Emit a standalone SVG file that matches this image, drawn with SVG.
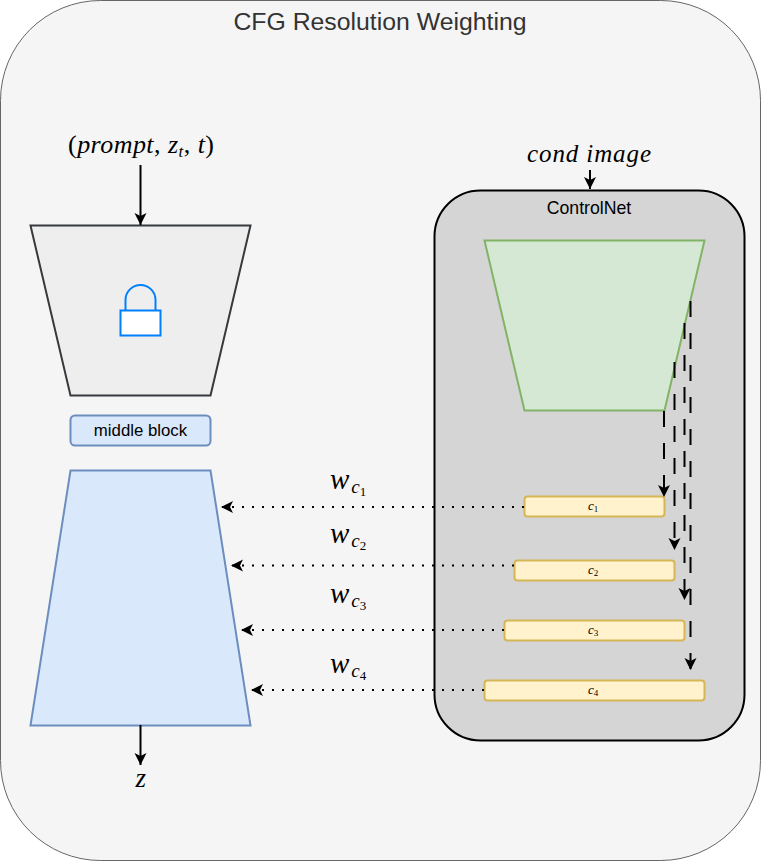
<svg xmlns="http://www.w3.org/2000/svg" width="762" height="862" viewBox="0 0 762 862">
<style>
.s{font-family:"Liberation Sans",Arial,sans-serif;text-anchor:middle;fill:#000}
.m{font-family:"Liberation Serif","Times New Roman",serif;font-style:italic;fill:#000}
.u{font-style:normal}
.solid{fill:none;stroke:#000;stroke-width:2}
.dash{fill:none;stroke:#000;stroke-width:2;stroke-dasharray:16 16}
.dot{fill:none;stroke:#000;stroke-width:2;stroke-dasharray:2 8}
.b{fill:#fff2cc;stroke:#d6b656;stroke-width:2}
</style>
<defs>
<marker id="a" markerUnits="userSpaceOnUse" markerWidth="14" markerHeight="14" refX="12" refY="6.500" orient="auto"><path d="M0 0.500L12 6.500L0 12.500L3 6.500Z" fill="#000"/></marker>
</defs>
<g id="frame"><rect x="0.500" y="0.500" width="760" height="860" rx="100" ry="100" fill="#f5f5f5" stroke="#666" stroke-width="1"/>
<text x="380" y="30" class="s" font-size="24.800" style="fill:#333">CFG Resolution Weighting</text></g>
<g id="controlnet"><rect x="434.500" y="190.500" width="310" height="550" rx="46" ry="46" fill="#d5d5d5" stroke="#000" stroke-width="2"/>
<text x="589" y="214" class="s" font-size="17.700">ControlNet</text></g>
<g id="encoder-locked"><path d="M30.500 225.500H250.500L210.500 395.500H70.500Z" fill="#eee" stroke="#36393d" stroke-width="2"/></g>
<g id="lock"><path d="M125.500 310V300A15 15 0 0 1 155.500 300V310" fill="none" stroke="#007fff" stroke-width="2"/><rect x="120.500" y="310.500" width="40" height="25" fill="#fff" stroke="#007fff" stroke-width="2"/></g>
<g id="middle-block"><rect x="70.500" y="415.500" width="140" height="30" rx="4.500" fill="#dae8fc" stroke="#6c8ebf" stroke-width="2"/>
<text x="140.500" y="436" class="s" font-size="16.800">middle block</text></g>
<g id="decoder"><path d="M70.500 470.500H210.500L250.500 725.500H30.500Z" fill="#dae8fc" stroke="#6c8ebf" stroke-width="2"/></g>
<g id="encoder-control"><path d="M484.500 240.500H704.500L664.500 410.500H524.500Z" fill="#d5e8d4" stroke="#82b366" stroke-width="2"/></g>
<g id="c1"><rect class="b" x="524.500" y="496.500" width="140" height="20" rx="3"/><text x="588" y="510" class="m" font-size="13">c<tspan class="u" font-size="9" dy="2">1</tspan></text></g>
<g id="c2"><rect class="b" x="514.500" y="560.500" width="160" height="20" rx="3"/><text x="588" y="574" class="m" font-size="13">c<tspan class="u" font-size="9" dy="2">2</tspan></text></g>
<g id="c3"><rect class="b" x="504.500" y="620.500" width="180" height="20" rx="3"/><text x="588" y="634" class="m" font-size="13">c<tspan class="u" font-size="9" dy="2">3</tspan></text></g>
<g id="c4"><rect class="b" x="484.500" y="680.500" width="220" height="20" rx="3"/><text x="588" y="694" class="m" font-size="13">c<tspan class="u" font-size="9" dy="2">4</tspan></text></g>
<g id="connectors">
<path class="solid" d="M140.500 165V225" marker-end="url(#a)"/>
<path class="solid" d="M140.500 725V765" marker-end="url(#a)"/>
<path class="solid" d="M590 170V189" marker-end="url(#a)"/>
<path class="dash" d="M664 411V497" marker-end="url(#a)"/>
<path class="dash" d="M674.500 362V550" marker-end="url(#a)"/>
<path class="dash" d="M684.500 323V600" marker-end="url(#a)"/>
<path class="dash" d="M690.500 301V670" marker-end="url(#a)"/>
<path class="dot" d="M524 507H221" marker-end="url(#a)"/>
<path class="dot" d="M514 565.500H231" marker-end="url(#a)"/>
<path class="dot" d="M504 630H241" marker-end="url(#a)"/>
<path class="dot" d="M484 690H251" marker-end="url(#a)"/>
</g>
<g id="labels">
<text x="68" y="153" class="m" font-size="26" textLength="146" lengthAdjust="spacing"><tspan class="u">(</tspan>prompt<tspan class="u">,</tspan> z<tspan font-size="17" dy="4">t</tspan><tspan class="u" dy="-4">,</tspan> t<tspan class="u">)</tspan></text>
<text x="527" y="161.500" class="m" font-size="25" textLength="124" lengthAdjust="spacing">cond image</text>
<text x="330" y="489" class="m" font-size="29">w<tspan font-size="19" dy="4" dx="2">c</tspan><tspan class="u" font-size="13" dy="3">1</tspan></text>
<text x="330" y="543" class="m" font-size="29">w<tspan font-size="19" dy="4" dx="2">c</tspan><tspan class="u" font-size="13" dy="3">2</tspan></text>
<text x="330" y="603" class="m" font-size="29">w<tspan font-size="19" dy="4" dx="2">c</tspan><tspan class="u" font-size="13" dy="3">3</tspan></text>
<text x="330" y="673" class="m" font-size="29">w<tspan font-size="19" dy="4" dx="2">c</tspan><tspan class="u" font-size="13" dy="3">4</tspan></text>
<text x="135.500" y="787" class="m" font-size="27">z</text>
</g>
</svg>
